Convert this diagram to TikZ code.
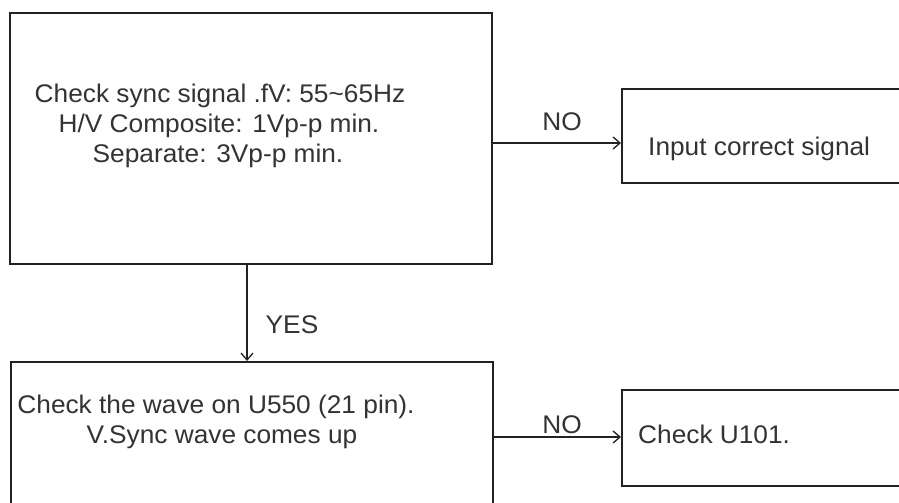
\documentclass[tikz,border=0pt]{standalone}
\usepackage{fontspec}
\setmainfont[FakeStretch=1.03]{Liberation Sans}
\usetikzlibrary{arrows.meta}
\definecolor{ink}{HTML}{222222}
\definecolor{txt}{HTML}{333333}
\begin{document}
\begin{tikzpicture}[x=1pt,y=-1pt,
  box/.style={draw=ink,line width=1.8pt,rectangle,inner sep=0pt},
  line/.style={anchor=base,inner sep=0pt,text=txt,font=\fontsize{25.5}{30}\selectfont},
  lbl/.style={line,anchor=base},
  arr/.style={draw=ink,line width=1.4pt,-{Straight Barb[length=7pt,width=12pt,line width=1.3pt]}}]
\useasboundingbox (0,0) rectangle (899,503);
\clip (0,0) rectangle (899,503);
\fill[white] (0,0) rectangle (899,503);
% boxes
\node[box,minimum width=482pt,minimum height=251pt] (b1) at (251,138.5) {};
\node[box,minimum width=300pt,minimum height=94pt,anchor=north west] (b2) at (621,88) {};
\node[box,minimum width=482pt,minimum height=170pt,anchor=north west] (b3) at (10,361) {};
\node[box,minimum width=300pt,minimum height=96pt,anchor=north west] (b4) at (621,389) {};
% texts
\node[line] (t1a) at (220,102) {Check sync signal .fV: 55\textasciitilde 65Hz};
\node[line] (t1b) at (219,132) {H/V Composite: 1Vp-p min.};
\node[line] (t1c) at (218,162) {Separate: 3Vp-p min.};
\node[line,anchor=base west] (t2) at (648,155) {Input correct signal};
\node[line] (t3a) at (216,413) {Check the wave on U550 (21 pin).};
\node[line] (t3b) at (222,443) {V.Sync wave comes up};
\node[line,anchor=base west] (t4) at (638,443) {Check U101.};
% connectors
\coordinate (n1s) at (b1.east |- 0,143);
\coordinate (n1e) at (b2.west |- 0,143);
\draw[arr] (n1s) -- (n1e);
\coordinate (ys) at (b1.south -| 247,0);
\coordinate (ye) at (b3.north -| 247,0);
\draw[arr] (ys) -- (ye);
\coordinate (n2s) at (b3.east |- 0,437);
\coordinate (n2e) at (b4.west |- 0,437);
\draw[arr] (n2s) -- (n2e);
% labels
\node[lbl] (no1) at (562,130) {NO};
\node[lbl] (yes) at (292,333) {YES};
\node[lbl] (no2) at (562,433) {NO};
\end{tikzpicture}
\end{document}
